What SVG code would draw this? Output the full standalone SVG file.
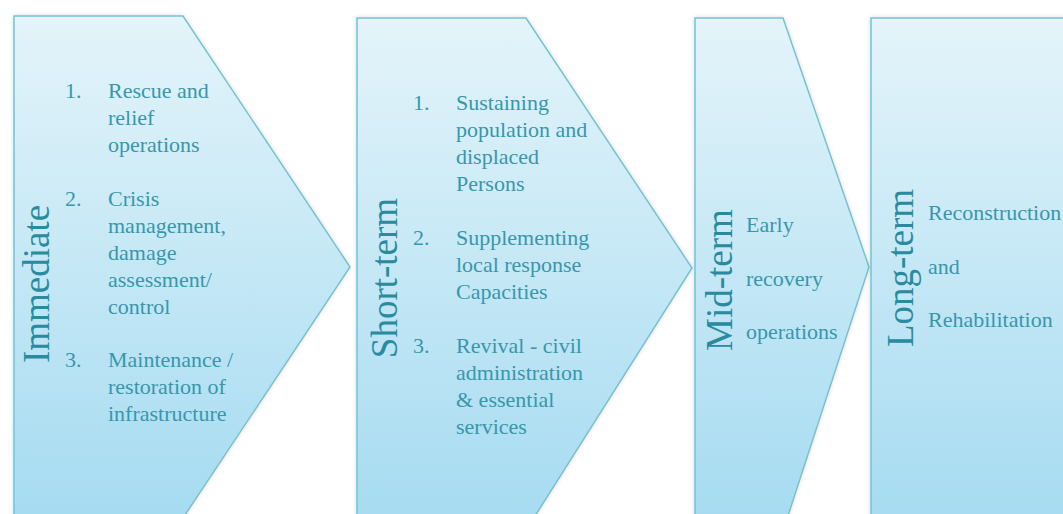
<svg xmlns="http://www.w3.org/2000/svg" width="1063" height="514" viewBox="0 0 1063 514">
<defs>
<linearGradient id="g" x1="0" y1="0" x2="0" y2="1" gradientUnits="objectBoundingBox">
<stop offset="0" stop-color="#e4f4fa"/>
<stop offset="1" stop-color="#a5dbf1"/>
</linearGradient>
<filter id="sh" x="-5%" y="-5%" width="110%" height="110%">
<feGaussianBlur in="SourceAlpha" stdDeviation="2"/>
<feOffset dx="0" dy="0"/>
<feComponentTransfer><feFuncA type="linear" slope="0.15"/></feComponentTransfer>
<feMerge><feMergeNode/><feMergeNode in="SourceGraphic"/></feMerge>
</filter>
</defs>
<style>
.shape{fill:url(#g);stroke:#72c4d4;stroke-width:1.5;filter:url(#sh)}
.title{font-family:"Liberation Serif","Times New Roman",serif;font-size:37px;fill:#2a8ba0}
.t text{font-family:"Liberation Serif","Times New Roman",serif;font-size:22px;fill:#3897ab}
</style>
<rect width="1063" height="514" fill="#ffffff"/>
<g id="node-immediate">
<polygon class="shape" points="14,16 183,16 350,267 183,518 14,518"/>
<text class="title" transform="translate(49,284) rotate(-90)" text-anchor="middle">Immediate</text>
<g class="t">
<text x="65" y="98">1.</text>
<text x="108" y="98">Rescue and</text>
<text x="108" y="125">relief</text>
<text x="108" y="152">operations</text>
<text x="65" y="206">2.</text>
<text x="108" y="206">Crisis</text>
<text x="108" y="233">management,</text>
<text x="108" y="260">damage</text>
<text x="108" y="287">assessment/</text>
<text x="108" y="314">control</text>
<text x="65" y="367">3.</text>
<text x="108" y="367">Maintenance /</text>
<text x="108" y="394">restoration of</text>
<text x="108" y="421">infrastructure</text>
</g>
</g>
<g id="node-short-term">
<polygon class="shape" points="357,18 526,18 692,268 530,524 357,524"/>
<text class="title" transform="translate(397,278) rotate(-90)" text-anchor="middle">Short-term</text>
<g class="t">
<text x="413" y="110">1.</text>
<text x="456" y="110">Sustaining</text>
<text x="456" y="137">population and</text>
<text x="456" y="164">displaced</text>
<text x="456" y="191">Persons</text>
<text x="413" y="245">2.</text>
<text x="456" y="245">Supplementing</text>
<text x="456" y="272">local response</text>
<text x="456" y="299">Capacities</text>
<text x="413" y="353">3.</text>
<text x="456" y="353">Revival - civil</text>
<text x="456" y="380">administration</text>
<text x="456" y="407">&amp; essential</text>
<text x="456" y="434">services</text>
</g>
</g>
<g id="node-mid-term">
<polygon class="shape" points="695,18 783,18 869,267 786,522 695,522"/>
<text class="title" transform="translate(732,280) rotate(-90)" text-anchor="middle">Mid-term</text>
<g class="t">
<text x="746" y="232">Early</text>
<text x="746" y="286">recovery</text>
<text x="746" y="339">operations</text>
</g>
</g>
<g id="node-long-term">
<polygon class="shape" points="871,18 1080,18 1080,524 871,524"/>
<text class="title" transform="translate(913,268) rotate(-90)" text-anchor="middle">Long-term</text>
<g class="t">
<text x="928" y="220">Reconstruction</text>
<text x="928" y="274">and</text>
<text x="928" y="327">Rehabilitation</text>
</g>
</g>
<g id="connectors"></g>
</svg>
